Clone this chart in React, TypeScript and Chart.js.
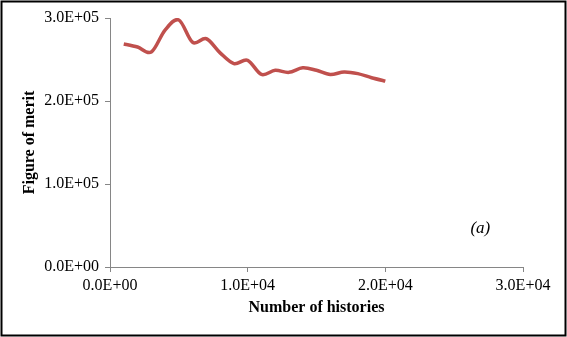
import React, { useEffect, useRef } from "react";
import { Chart, registerables } from "chart.js";

Chart.register(...registerables);

const histories = [1000, 2000, 3000, 4000, 5000, 6000, 7000, 8000, 9000, 10000, 11000, 12000, 13000, 14000, 15000, 16000, 17000, 18000, 19000, 20000];
const figureOfMerit = [268700, 265000, 259000, 285500, 297600, 270700, 275000, 258000, 245000, 249000, 232000, 237000, 234500, 240000, 237000, 232000, 235000, 233000, 228000, 224000];
const xTicks = [0, 10000, 20000, 30000];
const yTicks = [0, 100000, 200000, 300000];
const panelLabel = "(a)";

function sci(v: number): string {
  if (v === 0) return "0.0E+00";
  const e = Math.floor(Math.log10(Math.abs(v)));
  const m = v / Math.pow(10, e);
  const es = (e < 0 ? "-" : "+") + String(Math.abs(e)).padStart(2, "0");
  return m.toFixed(1) + "E" + es;
}

// Uniform Catmull-Rom control points (Excel-like smoothed line)
const smoothPlugin = {
  id: "smooth",
  beforeDatasetDraw(chart: any, args: any) {
    const meta = args.meta;
    const line = meta.dataset;
    if (!line) return;
    line.updateControlPoints(chart.chartArea, "x");
    const pts = meta.data;
    const n = pts.length;
    for (let i = 0; i < n; i++) {
      const p = pts[i];
      const prev = pts[Math.max(0, i - 1)];
      const next = pts[Math.min(n - 1, i + 1)];
      const dx = (next.x - prev.x) / 6;
      const dy = (next.y - prev.y) / 6;
      p.cp1x = p.x - dx;
      p.cp1y = p.y - dy;
      p.cp2x = p.x + dx;
      p.cp2y = p.y + dy;
    }
  },
};

const framePlugin = {
  id: "frame",
  afterDraw(chart: any) {
    const ctx = chart.ctx;
    ctx.save();
    ctx.strokeStyle = "#000";
    ctx.lineWidth = 2;
    ctx.strokeRect(1.5, 1.5, chart.width - 3, chart.height - 3);
    const xs = chart.scales.x;
    const ys = chart.scales.y;
    ctx.fillStyle = "#000";
    ctx.font = "italic 17px 'Liberation Serif'";
    ctx.textAlign = "center";
    ctx.textBaseline = "middle";
    ctx.fillText(panelLabel, xs.getPixelForValue(26900), ys.getPixelForValue(46000));
    ctx.restore();
  },
};

export default function App() {
  const ref = useRef<HTMLCanvasElement>(null);
  useEffect(() => {
    if (!ref.current) return;
    const axisColor = "#868686";
    const chart = new Chart(ref.current, {
      type: "line",
      data: {
        labels: histories,
        datasets: [
          {
            data: histories.map((h, i) => ({ x: h, y: figureOfMerit[i] })),
            borderColor: "#C0504D",
            borderWidth: 3.5,
            pointRadius: 0,
            tension: 0.33,
            fill: false,
          },
        ],
      },
      options: {
        animation: false,
        responsive: false,
        devicePixelRatio: 1,
        layout: { padding: { top: 18, right: 44, left: 0, bottom: 0 } },
        plugins: { legend: { display: false }, tooltip: { enabled: false } },
        scales: {
          x: {
            type: "linear",
            min: 0,
            max: 30000,
            afterBuildTicks: (s: any) => { s.ticks = xTicks.map((v) => ({ value: v })); },
            afterFit: (s: any) => { s.height = 70; },
            grid: { drawOnChartArea: false, drawTicks: true, tickLength: 5, color: axisColor },
            border: { color: axisColor, width: 1 },
            ticks: {
              color: "#000",
              padding: 4,
              maxRotation: 0,
              font: { family: "'Liberation Serif'", size: 16 },
              callback: (v: any) => sci(Number(v)),
            },
            title: {
              display: true,
              text: "Number of histories",
              color: "#000",
              font: { family: "'Liberation Serif'", size: 16, weight: "bold" },
              padding: { top: 0, bottom: 20 },
            },
          },
          y: {
            type: "linear",
            min: 0,
            max: 300000,
            afterBuildTicks: (s: any) => { s.ticks = yTicks.map((v) => ({ value: v })); },
            afterFit: (s: any) => { s.width = 110; },
            grid: { drawOnChartArea: false, drawTicks: true, tickLength: 5, color: axisColor },
            border: { color: axisColor, width: 1 },
            ticks: {
              color: "#000",
              padding: 6,
              font: { family: "'Liberation Serif'", size: 16 },
              callback: (v: any) => sci(Number(v)),
            },
            title: {
              display: true,
              text: "Figure of merit",
              color: "#000",
              font: { family: "'Liberation Serif'", size: 16, weight: "bold" },
              padding: { top: 20, bottom: 0 },
            },
          },
        },
      },
      plugins: [smoothPlugin, framePlugin],
    });
    return () => chart.destroy();
  }, []);
  return (
    <div style={{ position: "absolute", left: 0, top: 0, width: 567, height: 337, background: "#fff" }}>
      <canvas ref={ref} width={567} height={337} style={{ width: 567, height: 337 }} />
    </div>
  );
}
